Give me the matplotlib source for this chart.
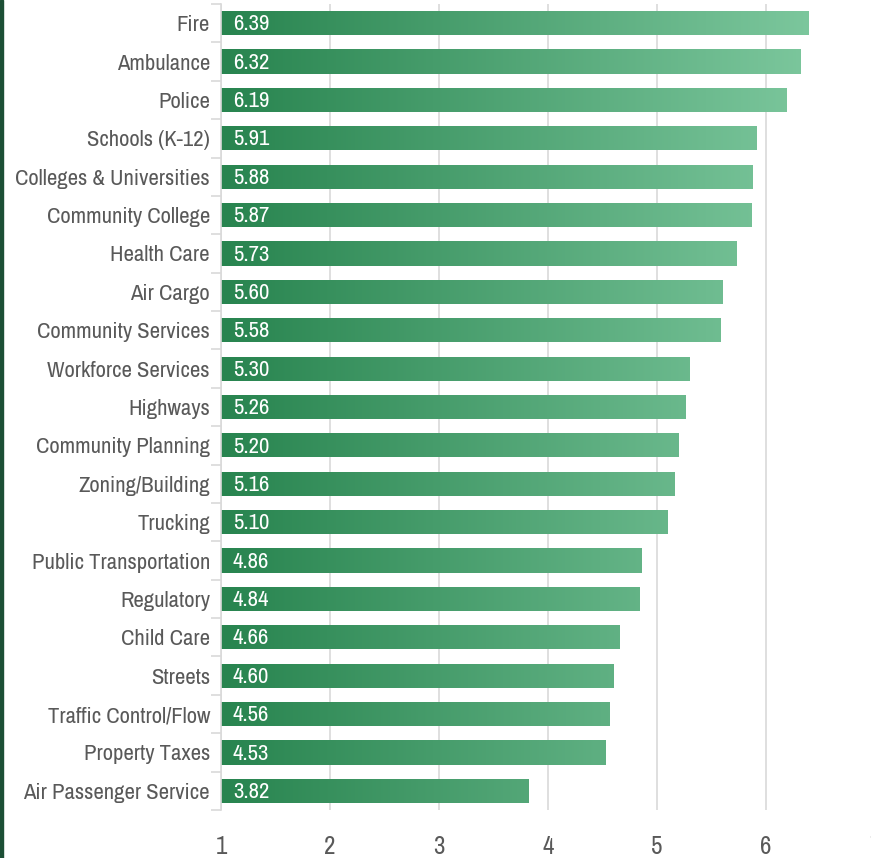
import matplotlib.pyplot as plt
from matplotlib import font_manager
from matplotlib.colors import LinearSegmentedColormap, Normalize
from matplotlib.patches import Rectangle
import numpy as np

categories = ['Fire', 'Ambulance', 'Police', 'Schools (K-12)', 'Colleges & Universities',
              'Community College', 'Health Care', 'Air Cargo', 'Community Services',
              'Workforce Services', 'Highways', 'Community Planning', 'Zoning/Building',
              'Trucking', 'Public Transportation', 'Regulatory', 'Child Care', 'Streets',
              'Traffic Control/Flow', 'Property Taxes', 'Air Passenger Service']
values = [6.39, 6.32, 6.19, 5.91, 5.88, 5.87, 5.73, 5.60, 5.58, 5.30, 5.26,
          5.20, 5.16, 5.10, 4.86, 4.84, 4.66, 4.60, 4.56, 4.53, 3.82]
x_ticks = [1, 2, 3, 4, 5, 6, 7]

# prefer a condensed face if one is around, otherwise Roboto (fairly narrow)
names = sorted({f.name for f in font_manager.fontManager.ttflist})
narrow = [n for n in names if 'Narrow' in n or 'Condensed' in n]
family = narrow[0] if narrow else 'Roboto'
plt.rcParams['font.family'] = [family, 'DejaVu Sans']

text_gray = '#595959'
grid_gray = '#d9d9d9'

W, H = 871, 858
fig = plt.figure(figsize=(W / 100, H / 100), dpi=100)
ax = fig.add_axes([221 / W, 1 - 810 / H, (875 - 221) / W, (810 - 4) / H])

cmap = LinearSegmentedColormap.from_list('grn', ['#28844f', '#7cc79d'])
norm = Normalize(vmin=1, vmax=6.42)
grad = np.linspace(1, 6.42, 512).reshape(1, -1)

y = np.arange(len(categories))
bars = ax.barh(y, np.array(values) - 1, left=1, height=0.63, color='none', zorder=2)
for b in bars:
    im = ax.imshow(grad, extent=[1, 6.42, b.get_y() + b.get_height(), b.get_y()],
                   cmap=cmap, norm=norm, aspect='auto', zorder=2, interpolation='bilinear')
    im.set_clip_path(b)

# size labels so the longest one fits the left margin (about 196 px)
probe = fig.text(0, 0, max(categories, key=len), fontsize=20)
fig.canvas.draw()
w = probe.get_window_extent().width
probe.remove()
lab_size = min(19, 20 * 194 / w)

val_texts = []
for yi, v in zip(y, values):
    ax.text(1.11, yi + 0.03, f'{v:.2f}', color='white', fontsize=lab_size,
            va='center', ha='left', zorder=3)

ax.set_xlim(1, 7)
ax.set_ylim(len(categories) - 0.5, -0.5)

ax.set_yticks(y)
ax.set_yticklabels(categories, fontsize=lab_size, color=text_gray)
ax.set_yticks(np.arange(len(categories) + 1) - 0.5, minor=True)
ax.tick_params(axis='y', which='major', length=0, pad=8)
ax.tick_params(axis='y', which='minor', length=7, width=1.2, color=grid_gray)

ax.set_xticks(x_ticks)
ax.set_xticklabels([str(t) for t in x_ticks], fontsize=min(18, lab_size + 2), color=text_gray)
ax.tick_params(axis='x', length=0, pad=18)
ax.grid(axis='x', color=grid_gray, linewidth=1.2, zorder=0)
ax.set_axisbelow(True)

for s in ['top', 'right', 'bottom']:
    ax.spines[s].set_visible(False)
ax.spines['left'].set_color(grid_gray)
ax.spines['left'].set_linewidth(1.2)

fig.patches.append(Rectangle((0, 0), 3 / W, 1, transform=fig.transFigure,
                             color='#1c4f35', zorder=10))

fig.savefig('out.png', dpi=100)
